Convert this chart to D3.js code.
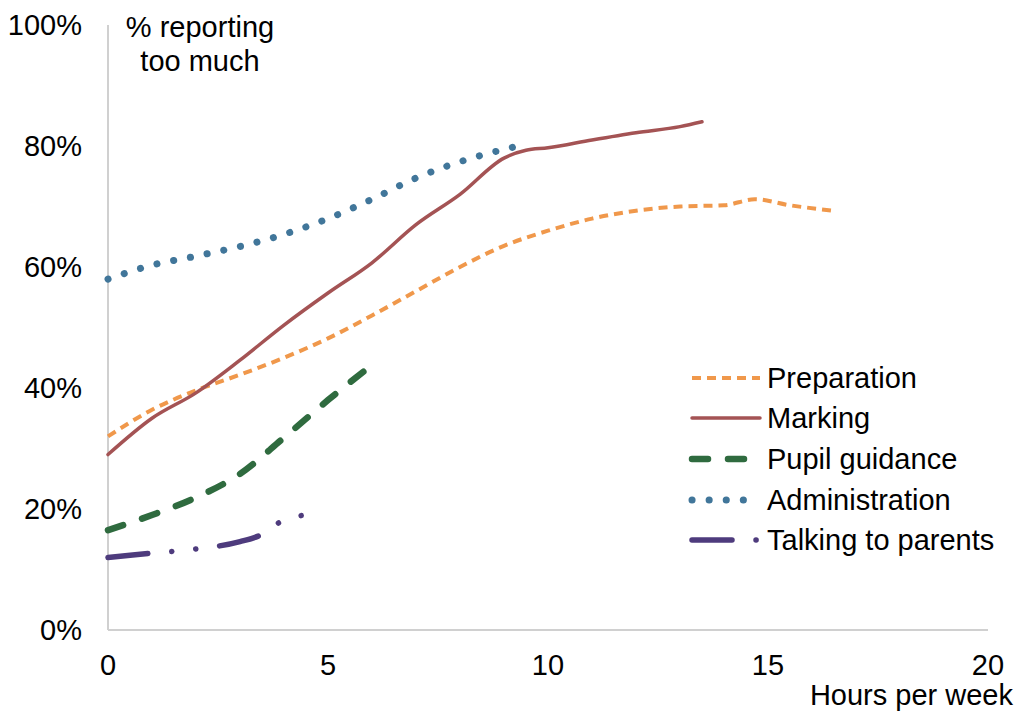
<!DOCTYPE html>
<html><head><meta charset="utf-8">
<script src="https://cdn.jsdelivr.net/npm/d3@7"></script>
<style>body{margin:0;background:#fff}svg{display:block}text{font-family:"Liberation Sans",Arial,sans-serif;fill:#000}</style>
</head><body><svg id="c" width="1016" height="711"></svg>
<script>
const seriesNames = ["Preparation","Marking","Pupil guidance","Administration","Talking to parents"];
const prepHours = [0,1,2,3,4,5,6,7,8,9,10,11,12,13,14,14.7,15.5,16.5];
const prepPct =   [32,36.4,39.6,42.2,45,48.2,52,56,60,63.5,66,68,69.3,70,70.2,71.2,70.2,69.3];
const markHours = [0,1,2,3,4,5,6,7,8,9,9.5,10,11,12,13,13.5];
const markPct =   [29,35,39.2,44.6,50.4,55.7,60.7,67,72,78,79.3,79.7,81,82.2,83.2,84];
const guidHours = [0,1,2,3,4,5,6];
const guidPct =   [16.5,19,21.9,25.8,31.8,38,43.8];
const adminHours = [0,1,2,3,4,5,6,7,8,9.2];
const adminPct =   [58,60.3,61.8,63.4,65.4,68,71.2,74.7,77.4,79.8];
const talkHours = [0,1,2,3,3.5,4,4.5];
const talkPct =   [12,12.7,13.4,14.6,15.8,18.2,19];
const xTicks = [0,5,10,15,20];
const yTicks = [0,20,40,60,80,100];

const styles = [
  {color:"#F0984B", width:4, dash:"9 6", cap:"butt"},
  {color:"#A45354", width:3.5, dash:null, cap:"round"},
  {color:"#2F6B3F", width:6.5, dash:"16 20", cap:"round"},
  {color:"#41769A", width:7, dash:"0.1 17", cap:"round"},
  {color:"#4E3B7D", width:5.5, dash:"40 24 0.1 24 0.1 24", cap:"round"}
];
const data = [
  prepHours.map((h,i)=>[h,prepPct[i]]),
  markHours.map((h,i)=>[h,markPct[i]]),
  guidHours.map((h,i)=>[h,guidPct[i]]),
  adminHours.map((h,i)=>[h,adminPct[i]]),
  talkHours.map((h,i)=>[h,talkPct[i]])
];

const svg = d3.select("#c");
const x = d3.scaleLinear().domain([0,20]).range([108,988]);
const y = d3.scaleLinear().domain([0,100]).range([630,25]);
const FS = 29;

// axes
svg.append("line").attr("x1",x(0)).attr("x2",x(0)).attr("y1",y(100)).attr("y2",y(0)).attr("stroke","#d0d0d0").attr("stroke-width",2);
svg.append("line").attr("x1",x(0)).attr("x2",x(20)).attr("y1",y(0)).attr("y2",y(0)).attr("stroke","#d0d0d0").attr("stroke-width",2);

svg.selectAll(".yt").data(yTicks).enter().append("text")
  .attr("x",82).attr("y",d=>y(d)+10).attr("text-anchor","end").attr("font-size",FS).text(d=>d+"%");
svg.selectAll(".xt").data(xTicks).enter().append("text")
  .attr("x",d=>x(d)).attr("y",675).attr("text-anchor","middle").attr("font-size",FS).text(d=>d);
svg.append("text").attr("x",1013).attr("y",705).attr("text-anchor","end").attr("font-size",FS).text("Hours per week");
const t = svg.append("text").attr("text-anchor","middle").attr("font-size",FS);
t.append("tspan").attr("x",200).attr("y",37).text("% reporting");
t.append("tspan").attr("x",200).attr("y",71).text("too much");

const line = d3.line().x(d=>x(d[0])).y(d=>y(d[1])).curve(d3.curveMonotoneX);
data.forEach((d,i)=>{
  const s = styles[i];
  const p = svg.append("path").attr("d",line(d)).attr("fill","none").attr("stroke",s.color)
    .attr("stroke-width",s.width).attr("stroke-linecap",s.cap).attr("stroke-linejoin","round")
    .attr("stroke-dasharray",s.dash);
  if (i===3) {
    const L = p.node().getTotalLength();
    const n = Math.round(L/17);
    const period = (L - 0.5)/n;
    p.attr("stroke-dasharray","0.1 "+(period-0.1));
  }
});

// legend
const legY = [378,418,459,500,540];
seriesNames.forEach((n,i)=>{
  const s = styles[i];
  svg.append("line").attr("x1",692).attr("x2",760).attr("y1",legY[i]).attr("y2",legY[i])
    .attr("stroke",s.color).attr("stroke-width",s.width).attr("stroke-linecap",s.cap).attr("stroke-dasharray",s.dash);
  svg.append("text").attr("x",767).attr("y",legY[i]+10).attr("font-size",FS).text(n);
});
</script></body></html>
